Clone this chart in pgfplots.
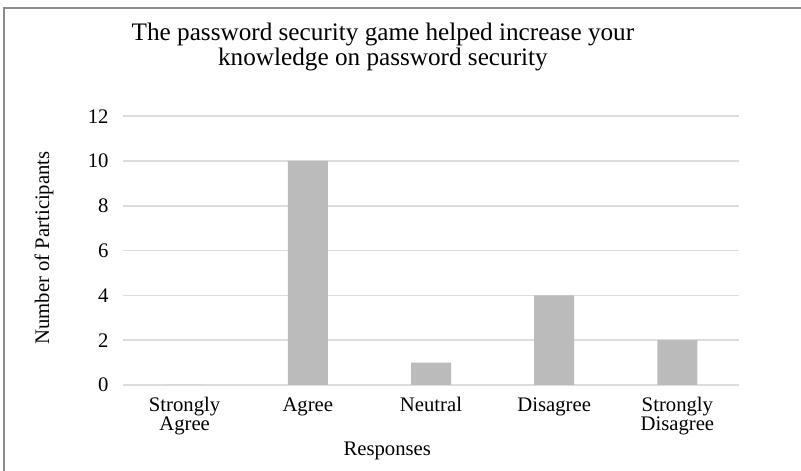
\documentclass[border=0pt]{standalone}
\usepackage{fontspec}
\setmainfont{Liberation Serif}
\usepackage{pgfplots}
\pgfplotsset{compat=1.18}
\definecolor{barfill}{HTML}{BBBBBB}
\definecolor{gridc}{HTML}{DDDDDD}
\definecolor{framec}{HTML}{8C8C8C}
\begin{document}
\begin{tikzpicture}
  \path[use as bounding box] (0pt,0pt) rectangle (801pt,471pt);
  \draw[framec, line width=2pt] (4pt,0pt) -- (4pt,463pt) -- (801pt,463pt);
  \begin{axis}[
    at={(123pt,86pt)}, anchor=south west,
    scale only axis,
    width=616pt, height=268.8pt,
    ybar, bar width=40pt,
    xmin=-0.5, xmax=4.5,
    ymin=0, ymax=12,
    xtick=data,
    xticklabels={{Strongly\\Agree},Agree,Neutral,Disagree,{Strongly\\Disagree}},
    ytick={0,2,4,6,8,10,12},
    ymajorgrids=true,
    grid style={gridc, line width=1.5pt},
    axis line style={draw=none},
    major tick length=0pt,
    /pgf/number format/assume math mode=true,
    tick label style={font=\fontsize{20.7}{19}\selectfont},
    xticklabel style={align=center, anchor=north, yshift=-9pt},
    yticklabel style={anchor=east, xshift=-11pt},
    title={The password security game helped increase your\\knowledge on password security},
    title style={at={(0.422,1.237)}, anchor=center, align=center, font=\fontsize{25.2}{25}\selectfont},
    xlabel={Responses},
    xlabel style={at={(0.429,-0.246)}, anchor=center, font=\fontsize{20.7}{22}\selectfont},
    ylabel={Number of Participants},
    ylabel style={at={(-0.128,0.51)}, anchor=center, font=\fontsize{20.7}{22}\selectfont},
  ]
    \addplot[fill=barfill, draw=none] coordinates {(0,0) (1,10) (2,1) (3,4) (4,2)};
  \end{axis}
\end{tikzpicture}
\end{document}
